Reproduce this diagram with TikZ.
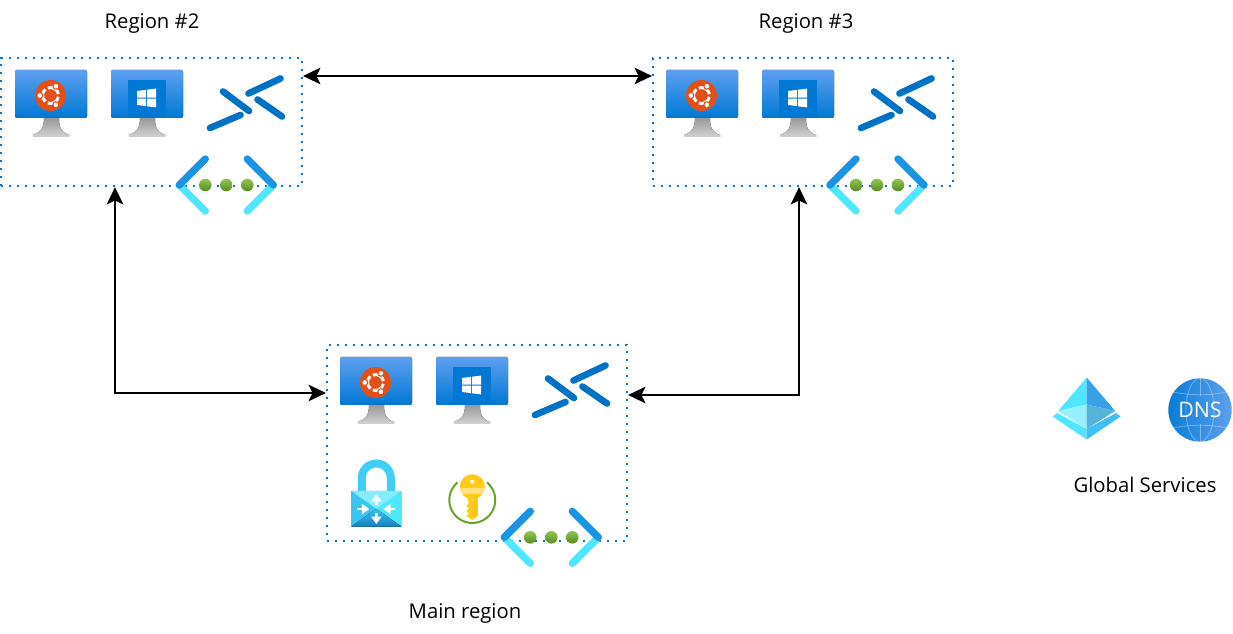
\documentclass[tikz,border=0pt]{standalone}
\usepackage{fontspec}
\setmainfont{Open Sans}
\usetikzlibrary{arrows.meta,fit}

\definecolor{azblue}{HTML}{0078D4}
\definecolor{azsky}{HTML}{5EA0EF}
\definecolor{azmid}{HTML}{1B93E4}
\definecolor{azcyan}{HTML}{50E6FF}
\definecolor{azdark}{HTML}{0072C6}
\definecolor{ubuorange}{HTML}{E2501A}
\definecolor{leafgreen}{HTML}{76B82A}
\definecolor{keygold}{HTML}{FFCA1A}

\tikzset{
  regionbox/.style={draw=azblue, line width=1.7pt, dash pattern={on 1.7pt off 4.3pt}, inner sep=0pt},
  caption/.style={font=\fontsize{15.2}{18}\selectfont, inner sep=0.75pt},
  biarrow/.style={line width=1pt, {Stealth[length=13pt,width=12.5pt,inset=3pt]}-{Stealth[length=13pt,width=12.5pt,inset=3pt]}},
  pics/vmscreen/.style={code={
    \fill [rounded corners=1.5pt, top color=azsky, bottom color=azblue] (0,0) rectangle (72,48);
    \fill [top color=gray!80, bottom color=gray!35] (29,48) .. controls (29,58) and (26,62) .. (18,65) -- (18,67) -- (54,67) -- (54,65) .. controls (46,62) and (44,58) .. (44,48) -- cycle;
  }},
  pics/vmubuntu/.style={code={
    \pic {vmscreen};
    \fill [ubuorange] (35.5,25.5) circle (15.5);
    \foreach \a in {10,130,250}
      \draw [white, line width=2.2pt] ([shift={(\a:8)}]35.5,25.5) arc [start angle=\a, delta angle=100, radius=8];
    \foreach \a in {60,180,300}
      \draw [ubuorange, line width=0.8pt, fill=white] ([shift={(\a:10.7)}]35.5,25.5) circle (3);
  }},
  pics/vmwindows/.style={code={
    \pic {vmscreen};
    \fill [azblue] (17.3,10) rectangle (54.7,48);
    \fill [white] (26,21) -- (34.8,19.9) -- (34.8,27.6) -- (26,27.6) -- cycle;
    \fill [white] (35.8,19.7) -- (45,18.6) -- (45,27.6) -- (35.8,27.6) -- cycle;
    \fill [white] (26,28.6) -- (34.8,28.6) -- (34.8,36.1) -- (26,35) -- cycle;
    \fill [white] (35.8,28.6) -- (45,28.6) -- (45,37.4) -- (35.8,36.3) -- cycle;
  }},
  pics/peering/.style={code={
    \draw [azdark, line width=5pt, line cap=round] (16,16.5) -- (42,36);
    \draw [azdark, line width=5pt, line cap=round] (3,53) -- (33.5,40);
    \draw [azdark, line width=5pt, line cap=round] (41.5,18.5) -- (73.5,3.5);
    \draw [azdark, line width=5pt, line cap=round] (50.5,24.5) -- (75,41.5);
  }},
  pics/vnet/.style={code={
    \draw [azcyan, line width=5.5pt, line cap=round] (-47,0) -- (-21,26);
    \draw [azcyan, line width=5.5pt, line cap=round] (47,0) -- (21,26);
    \draw [azmid, line width=5.5pt, line cap=round] (-47,0) -- (-21,-26);
    \draw [azmid, line width=5.5pt, line cap=round] (47,0) -- (21,-26);
    \foreach \dx in {-21,0,21}
      \shade [top color=leafgreen!80!white, bottom color=leafgreen!75!black] (\dx,0) circle (6.3);
  }},
  pics/vaultlock/.style={code={
    \draw [azcyan!70!azmid, line width=6pt] (-14.5,-14) -- (-14.5,-31) arc [start angle=180, end angle=360, radius=14.5] -- (14.5,-14);
    \fill [rounded corners=1pt, azcyan!85!azblue] (-25.3,-18) rectangle (25.3,17.7);
    \fill [azcyan!70!white] (-25.3,-18) -- (25.3,-18) -- (0,0) -- cycle;
    \fill [azcyan] (25.3,-18) -- (25.3,17) -- (0,0) -- cycle;
    \fill [azcyan!70!azblue] (-25.3,-18) -- (-25.3,17) -- (0,0) -- cycle;
    \fill [top color=azcyan!70!azblue, bottom color=azmid!85!black] (-25.3,17.7) -- (25.3,17.7) -- (0,0) -- cycle;
    \draw [white, line width=1.9pt, -{Triangle[length=5.5pt,width=7.5pt]}] (0,-4) -- (0,-15);
    \draw [white, line width=1.9pt, -{Triangle[length=5.5pt,width=7.5pt]}] (0,4) -- (0,15);
    \draw [white, line width=1.9pt, -{Triangle[length=5.5pt,width=7.5pt]}] (-19,0) -- (-7,0);
    \draw [white, line width=1.9pt, -{Triangle[length=5.5pt,width=7.5pt]}] (19,0) -- (7,0);
  }},
  pics/keyring/.style={code={
    \draw [leafgreen!90!black, line width=1.5pt] ([shift={(-50:23)}]0,0) arc [start angle=-50, end angle=230, radius=23];
    \fill [keygold] (-5.5,-5) -- (5.5,-5) -- (5.5,16) -- (0,20) -- (-5.5,16) -- (-3.5,13.5) -- (-6,11) -- (-3.5,8.5) -- (-6,6) -- (-3.5,3.5) -- cycle;
    \fill [keygold!85!orange] (1.5,0) rectangle (4,16);
    \fill [keygold] (0,-13.3) circle (12.5);
    \begin{scope}
      \clip (0,-13.3) circle (12.5);
      \fill [keygold!55!white] (-13,-12.3) rectangle (13,-6.3);
    \end{scope}
    \fill [white] (0,-18.3) circle (2);
  }},
  pics/adpyramid/.style={code={
    \definecolor{adupper}{HTML}{3AA0E8}
    \definecolor{adlower}{HTML}{55B3DC}
    \definecolor{adbase}{HTML}{40C0F0}
    \fill [azcyan] (0,-32.5) -- (-28.5,1) -- (0,-5.5) -- cycle;
    \fill [adupper] (0,-32.5) -- (28.5,1) -- (0,-5.5) -- cycle;
    \fill [azcyan!60!white] (-28.5,1) -- (0,-5.5) -- (0,19) -- cycle;
    \fill [adlower] (28.5,1) -- (0,-5.5) -- (0,19) -- cycle;
    \fill [azcyan] (-34,6.5) -- (-29.5,3) -- (0,19) -- (0,29.5) -- cycle;
    \fill [adbase] (34,6.5) -- (29.5,3) -- (0,19) -- (0,29.5) -- cycle;
  }},
  pics/dnsglobe/.style={code={
    \shade [shading angle=135, left color=azblue!90!azsky, right color=azsky] (0,0) circle (31.7);
    \begin{scope}
      \clip (0,0) circle (31.7);
      \draw [white, opacity=0.35, line width=0.6pt] (0,0) ellipse (14 and 31.7);
      \draw [white, opacity=0.35, line width=0.6pt] (0,-31.7) -- (0,-14) (0,14) -- (0,31.7);
      \draw [white, opacity=0.35, line width=0.6pt] (-31,-19) .. controls (-12,-14) and (12,-14) .. (31,-19);
      \draw [white, opacity=0.35, line width=0.6pt] (-31,19) .. controls (-12,14) and (12,14) .. (31,19);
    \end{scope}
    \node [white, inner sep=0pt, font=\fontsize{16}{18}\selectfont] (dnstext) at (0,0) {DNS};
  }},
}

\begin{document}
\begin{tikzpicture}[x=0.75pt,y=-0.75pt]
\useasboundingbox (0,0) rectangle (1233,634);

% regions
\node [regionbox, fit={(1,58) (302,186)}] (region2) {};
\node [regionbox, fit={(653,58) (953,186)}] (region3) {};
\node [regionbox, fit={(327,345) (627,541)}] (mainregion) {};

\node [caption] (region2label) at (152,24) {Region \#2};
\node [caption] (region3label) at (806,24) {Region \#3};
\node [caption] (mainlabel) at (465,613) {Main region};
\node [caption] (globallabel) at (1145,485) {Global Services};

% links
\coordinate (toptrack) at (478,76);
\coordinate (leftbend) at (115,393);
\coordinate (rightbend) at (799,395);
\draw [biarrow] (region2.east |- toptrack) -- (region3.west |- toptrack);
\draw [biarrow] (region2.south -| leftbend) -- (leftbend) -- (mainregion.west |- leftbend);
\draw [biarrow] (region3.south -| rightbend) -- (rightbend) -- (mainregion.east |- rightbend);

% region 2
\pic at (15,70) {vmubuntu};
\pic at (111,70) {vmwindows};
\pic at (207,75) {peering};
\pic at (226.3,185) {vnet};

% region 3
\pic at (666,70) {vmubuntu};
\pic at (762,70) {vmwindows};
\pic at (858,75) {peering};
\pic at (877,185) {vnet};

% main region
\pic at (340,357) {vmubuntu};
\pic at (436,357) {vmwindows};
\pic at (532,362) {peering};
\pic at (551.3,537.3) {vnet};
\pic at (376.3,509) {vaultlock};
\pic at (472.3,500) {keyring};

% global
\pic at (1086.7,410) {adpyramid};
\pic at (1200,410) {dnsglobe};
\end{tikzpicture}
\end{document}
